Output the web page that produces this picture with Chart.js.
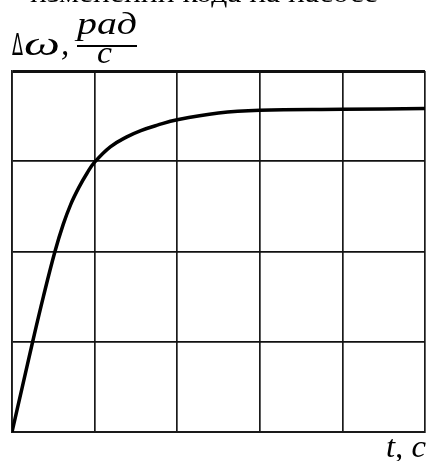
<!DOCTYPE html>
<html>
<head>
<meta charset="utf-8">
<script src="https://cdn.jsdelivr.net/npm/chart.js@4"></script>
<style>
  html, body { margin: 0; padding: 0; background: #fff; }
  canvas { display: block; }
</style>
</head>
<body>
<canvas id="myChart" width="427" height="461"></canvas>
<script>
// time (grid units) and speed deviation (grid units)
const timeValues = [0, 0.125, 0.25, 0.38, 0.52, 0.62, 0.71, 0.81, 0.91, 1.0, 1.19, 1.39, 1.56, 1.76, 2.0, 2.5, 3.0, 4.0, 5.0];
const omegaValues = [0, 0.5, 1.0, 1.5, 2.0, 2.3, 2.52, 2.71, 2.87, 2.99, 3.16, 3.27, 3.34, 3.40, 3.46, 3.535, 3.565, 3.575, 3.585];
const xTicks = [0, 1, 2, 3, 4, 5];
const yTicks = [0, 1, 2, 3, 4];
const titleText = "изменении кода на насосе";
const yLabel = ["Δ", "ω", ",", "рад", "с"];
const xLabel = "t, c";

const ctx = document.getElementById("myChart");

const points = timeValues.map((t, i) => ({ x: t, y: omegaValues[i] }));

// draw text squeezed/stretched to a given width
function fitText(c, text, x, y, width) {
  const w = c.measureText(text).width;
  c.save();
  c.translate(x, y);
  c.scale(width / w, 1);
  c.fillText(text, 0, 0);
  c.restore();
}

const labelsPlugin = {
  id: "labels",
  afterDraw(chart) {
    const c = chart.ctx;
    c.save();
    c.fillStyle = "#000";
    c.strokeStyle = "#000";
    c.textBaseline = "alphabetic";

    // cut-off caption at the very top
    c.font = "28px 'Liberation Serif'";
    fitText(c, titleText, 30, 2, 348);

    // y axis label
    c.font = "30px 'DejaVu Sans'";
    fitText(c, yLabel[0], 12, 55, 11);
    c.font = "italic 33px 'Liberation Serif'";
    fitText(c, yLabel[1], 24, 55, 36);
    c.fillText(yLabel[2], 61, 55);
    c.font = "italic 31px 'Liberation Serif'";
    fitText(c, yLabel[3], 77, 34, 60);
    fitText(c, yLabel[4], 97, 63, 15);
    c.lineWidth = 2;
    c.beginPath();
    c.moveTo(77, 46);
    c.lineTo(137, 46);
    c.stroke();

    // x axis label
    c.font = "italic 31px 'Liberation Serif'";
    fitText(c, xLabel, 386, 457, 40);
    c.restore();
  },
};

new Chart(ctx, {
  type: "scatter",
  data: {
    datasets: [
      {
        data: points,
        showLine: true,
        borderColor: "#000",
        borderWidth: 3.5,
        pointRadius: 0,
        tension: 0.4,
        fill: false,
      },
    ],
  },
  options: {
    responsive: false,
    animation: false,
    layout: {
      padding: { left: 12, right: 2, top: 71, bottom: 29 },
    },
    plugins: {
      legend: { display: false },
      tooltip: { enabled: false },
    },
    scales: {
      x: {
        type: "linear",
        min: 0,
        max: 5,
        afterBuildTicks: (axis) => {
          axis.ticks = xTicks.map((v) => ({ value: v }));
        },
        ticks: { display: false },
        grid: {
          color: "#1a1a1a",
          lineWidth: 1.7,
          drawTicks: false,
        },
        border: { color: "#1a1a1a", width: 2 },
      },
      y: {
        type: "linear",
        min: 0,
        max: 4,
        afterBuildTicks: (axis) => {
          axis.ticks = yTicks.map((v) => ({ value: v }));
        },
        ticks: { display: false },
        grid: {
          color: "#111",
          lineWidth: (context) => (context.tick && context.tick.value === 4 ? 3 : 1.7),
          drawTicks: false,
        },
        border: { color: "#1a1a1a", width: 1.7 },
      },
    },
  },
  plugins: [labelsPlugin],
});
</script>
</body>
</html>
